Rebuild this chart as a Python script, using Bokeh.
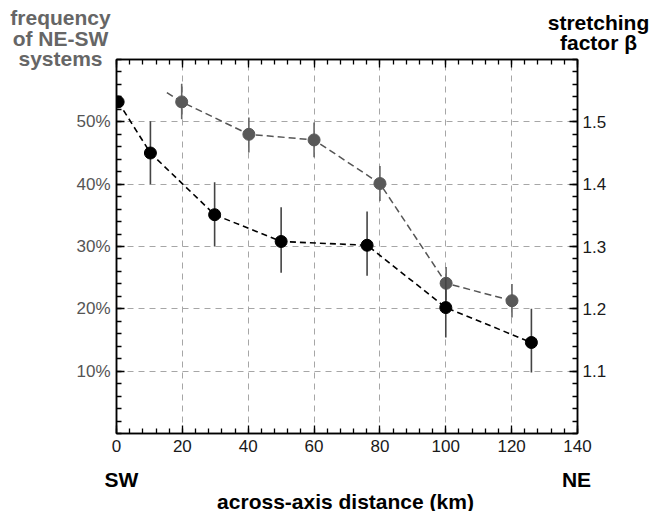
from bokeh.plotting import figure
from bokeh.models import (ColumnDataSource, LinearAxis, Range1d, FixedTicker,
                          PrintfTickFormatter, Label)
from bokeh.embed import file_html
from bokeh.resources import INLINE

# ---- data ----
freq_x = [0.5, 10.3, 29.8, 50.0, 76.1, 100.0, 126.0]
freq_y = [53.2, 45.0, 35.1, 30.8, 30.2, 20.2, 14.6]
freq_upper = [53.2, 50.1, 40.3, 36.3, 35.6, 25.0, 20.0]
freq_lower = [53.2, 40.0, 30.0, 25.8, 25.3, 15.4, 9.8]

beta_x = [19.8, 40.2, 60.0, 80.0, 100.1, 120.1]
beta_y = [1.532, 1.480, 1.471, 1.401, 1.241, 1.213]
beta_upper = [1.561, 1.507, 1.499, 1.429, 1.267, 1.240]
beta_lower = [1.504, 1.451, 1.443, 1.373, 1.213, 1.186]
# dashed trend line of beta starts a little left of the first point
beta_line_x = [15.3] + beta_x
beta_line_y = [1.547] + beta_y

x_ticks = [0, 20, 40, 60, 80, 100, 120, 140]
freq_ticks = [10, 20, 30, 40, 50]
beta_ticks = [1.1, 1.2, 1.3, 1.4, 1.5]

FONT = "Liberation Sans"
W, H = 652, 511

p = figure(width=W, height=H, output_backend="svg", toolbar_location=None,
           x_range=Range1d(0, 140), y_range=Range1d(0, 60),
           min_border_left=116, min_border_right=75, min_border_top=59,
           min_border_bottom=78, background_fill_color="white",
           border_fill_color="white")
p.extra_y_ranges = {"beta": Range1d(1.0, 1.6)}
p.outline_line_color = "black"
p.outline_line_width = 1.5

# grid
p.xgrid.ticker = FixedTicker(ticks=[20, 40, 60, 80, 100, 120])
p.ygrid.ticker = FixedTicker(ticks=freq_ticks)
for g in (p.xgrid, p.ygrid):
    g.grid_line_color = "#a6a6a6"
    g.grid_line_dash = "6 5"
    g.grid_line_width = 1

def style_axis(ax, color):
    ax.axis_line_color = "black"
    ax.axis_line_width = 1.5
    ax.major_tick_line_color = "black"
    ax.minor_tick_line_color = "black"
    ax.major_tick_line_width = 1.3
    ax.minor_tick_line_width = 1.3
    ax.major_tick_in = 8
    ax.major_tick_out = 0
    ax.minor_tick_in = 5
    ax.minor_tick_out = 0
    ax.major_label_text_font = FONT
    ax.major_label_text_font_size = "17px"
    ax.major_label_text_color = color

xminor = list(range(0, 141, 4))
# bottom axis
xb = p.xaxis[0]
xb.ticker = FixedTicker(ticks=x_ticks, minor_ticks=xminor)
style_axis(xb, "#1a1a1a")
xb.major_label_standoff = 6

# left axis
yl = p.yaxis[0]
yl.ticker = FixedTicker(ticks=freq_ticks, minor_ticks=list(range(0, 61, 2)))
yl.formatter = PrintfTickFormatter(format="%d%%")
style_axis(yl, "#555555")
yl.major_label_standoff = 6

# top axis (ticks only)
xt = LinearAxis(ticker=FixedTicker(ticks=x_ticks, minor_ticks=xminor))
style_axis(xt, None)
xt.major_label_standoff = 0
p.add_layout(xt, "above")

# right axis (beta)
yr = LinearAxis(y_range_name="beta",
                ticker=FixedTicker(ticks=beta_ticks,
                                   minor_ticks=[round(1.0 + 0.02 * i, 2) for i in range(31)]),
                formatter=PrintfTickFormatter(format="%.1f"))
style_axis(yr, "#1a1a1a")
yr.major_label_standoff = 5
p.add_layout(yr, "right")

# beta series (gray)
bsrc = ColumnDataSource(dict(x=beta_x, y=beta_y, lo=beta_lower, hi=beta_upper))
p.segment(x0="x", y0="lo", x1="x", y1="hi", source=bsrc, y_range_name="beta",
          line_color="#666666", line_width=1.6)
p.line(beta_line_x, beta_line_y, y_range_name="beta", line_color="#555555",
       line_width=1.5, line_dash="7 4")
p.scatter("x", "y", source=bsrc, y_range_name="beta", size=12,
          fill_color="#595959", line_color="#595959")

# frequency series (black)
fsrc = ColumnDataSource(dict(x=freq_x, y=freq_y, lo=freq_lower, hi=freq_upper))
p.segment(x0="x", y0="lo", x1="x", y1="hi", source=fsrc,
          line_color="#444444", line_width=1.6)
p.line("x", "y", source=fsrc, line_color="black", line_width=1.6, line_dash="6 4")
p.scatter("x", "y", source=fsrc, size=12, fill_color="black", line_color="black")

# transparent overlay figure (page pixels as data units) for the free texts
t = figure(width=W, height=H, output_backend="svg", toolbar_location=None,
           x_range=Range1d(0, W), y_range=Range1d(H, 0), min_border=0,
           x_axis_type=None, y_axis_type=None, outline_line_color=None,
           background_fill_alpha=0, border_fill_alpha=0,
           styles={"position": "absolute", "top": "0px", "left": "0px",
                   "pointer-events": "none"})
t.grid.visible = False

def lab(x, y, text, color="black", size="21px"):
    t.add_layout(Label(x=x, y=y, text=text, text_font=FONT, text_font_size=size,
                       text_font_style="bold", text_color=color,
                       text_align="center", text_baseline="alphabetic"))

# left title
lab(60, 17, "frequency", color="#666666")
lab(60, 38, "of NE-SW", color="#666666")
lab(60, 58, "systems", color="#666666")
# right title
lab(598, 22, "stretching")
lab(598, 42, "factor β")
# SW / NE and x axis title
lab(121, 479, "SW")
lab(576, 479, "NE")
lab(345, 501, "across-axis distance (km)")

open("out.html", "w").write(file_html([p, t], INLINE))
